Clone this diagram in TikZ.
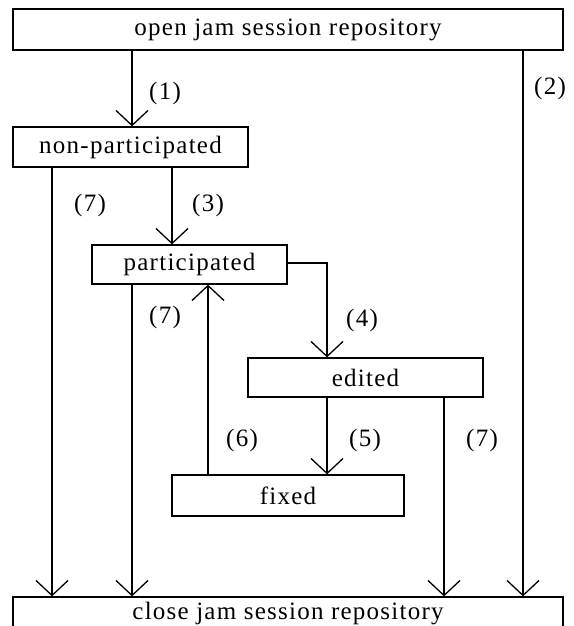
\documentclass[tikz,border=0pt]{standalone}
\usepackage{fontspec}
\setmainfont[LetterSpace=5]{Liberation Serif}
\usetikzlibrary{arrows.meta}
\begin{document}
\begin{tikzpicture}[x=1pt,y=-1pt,
  every node/.style={font=\fontsize{25}{28}\selectfont},
  state/.style={draw, line width=1.3pt, inner sep=0pt},
  lbl/.style={inner sep=0pt},
  link/.style={line width=1.3pt},
  arr/.style={link, -{Straight Barb[length=15pt,width=32pt,line width=1.3pt]}}]
\useasboundingbox[fill=white] (0,0) rectangle (573,626);

% states
\node[state, minimum width=550pt, minimum height=41pt] (open) at (288,29.5) {open jam session repository};
\node[state, minimum width=235pt, minimum height=40pt] (nonpart) at (130.5,147) {non-participated};
\node[state, minimum width=195pt, minimum height=39pt] (part) at (189.5,264.5) {participated};
\node[state, minimum width=235pt, minimum height=39pt] (edited) at (365.5,377.5) {edited};
\node[state, minimum width=232pt, minimum height=41pt] (fixed) at (288,495.5) {fixed};
\node[state, minimum width=550pt, minimum height=34pt] (close) at (288,614) {close jam session repository};

% vertical lanes of the connectors
\coordinate (xa) at (52,0);
\coordinate (xb) at (132,0);
\coordinate (xc) at (172,0);
\coordinate (xd) at (208,0);
\coordinate (xe) at (327,0);
\coordinate (xf) at (444,0);
\coordinate (xg) at (523,0);

% transitions
\draw[arr] (open.south -| xb) -- (nonpart.north -| xb);
\draw[arr] (open.south -| xg) -- (close.north -| xg);
\draw[arr] (nonpart.south -| xa) -- (close.north -| xa);
\draw[arr] (nonpart.south -| xc) -- (part.north -| xc);
\draw[arr] (part.south -| xb) -- (close.north -| xb);
\draw[arr] (part.east |- 0,263) -| (edited.north -| xe);
\draw[arr] (edited.south -| xe) -- (fixed.north -| xe);
\draw[arr] (fixed.north -| xd) -- (part.south -| xd);
\draw[arr] (edited.south -| xf) -- (close.north -| xf);

% transition numbers
\node[lbl] (l1) at (165,93) {(1)};
\node[lbl] (l2) at (550,88) {(2)};
\node[lbl] (l3) at (208,205) {(3)};
\node[lbl] (l7a) at (90,205) {(7)};
\node[lbl] (l7b) at (165,317) {(7)};
\node[lbl] (l4) at (362,320) {(4)};
\node[lbl] (l6) at (242,440) {(6)};
\node[lbl] (l5) at (365,440) {(5)};
\node[lbl] (l7c) at (482,440) {(7)};
\end{tikzpicture}
\end{document}
